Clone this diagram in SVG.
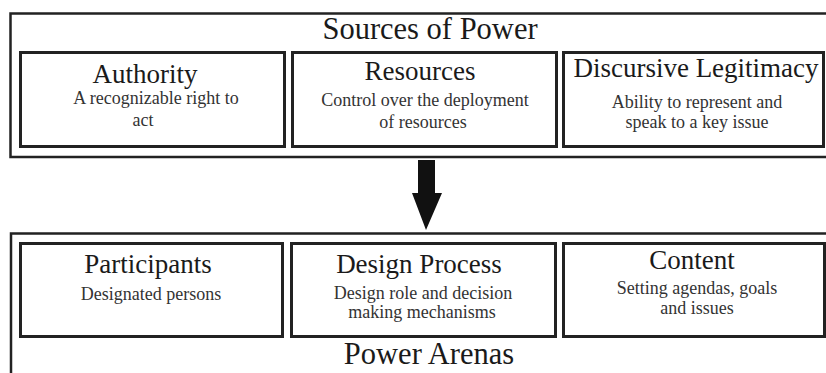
<svg xmlns="http://www.w3.org/2000/svg" width="826" height="373" viewBox="0 0 826 373">
<style>
.outer{fill:none;stroke:#222;stroke-width:2.5}
.box{fill:#fff;stroke:#222;stroke-width:3}
text{font-family:"Liberation Serif","Times New Roman",serif;text-anchor:middle}
.title{font-size:30.5px;fill:#1a1a1a}
.head{font-size:27px;fill:#1a1a1a}
.sub{font-size:18px;fill:#333}
</style>
<rect width="826" height="373" fill="#fff"/>
<g id="sources">
<rect class="outer" x="10.5" y="13.5" width="830" height="143.5"/>
<text class="title" x="430" y="39">Sources of Power</text>
</g>
<g id="authority">
<rect class="box" x="20.5" y="52.5" width="264" height="94"/>
<text class="head" x="145" y="83">Authority</text>
<text class="sub" x="156" y="104">A recognizable right to</text>
<text class="sub" x="143" y="126">act</text>
</g>
<g id="resources">
<rect class="box" x="292.5" y="52.5" width="264" height="94"/>
<text class="head" x="420" y="80">Resources</text>
<text class="sub" x="425" y="106">Control over the deployment</text>
<text class="sub" x="423" y="128">of resources</text>
</g>
<g id="discursive">
<rect class="box" x="563.5" y="52.5" width="260" height="94"/>
<text class="head" x="696" y="77">Discursive Legitimacy</text>
<text class="sub" x="697" y="108">Ability to represent and</text>
<text class="sub" x="697" y="128">speak to a key issue</text>
</g>
<g id="connectors">
<polygon points="418,160 435,160 435,193 442,193 426,230 412,193 418,193" fill="#111"/>
</g>
<g id="arenas">
<rect class="outer" x="11" y="233.5" width="830" height="160"/>
<text class="title" x="429" y="364">Power Arenas</text>
</g>
<g id="participants">
<rect class="box" x="20.5" y="243.5" width="262" height="93"/>
<text class="head" x="148" y="273">Participants</text>
<text class="sub" x="151" y="300">Designated persons</text>
</g>
<g id="design">
<rect class="box" x="291.5" y="243.5" width="264" height="93"/>
<text class="head" x="419" y="273">Design Process</text>
<text class="sub" x="423" y="299">Design role and decision</text>
<text class="sub" x="422" y="318">making mechanisms</text>
</g>
<g id="content">
<rect class="box" x="563.5" y="243.5" width="261" height="93"/>
<text class="head" x="692" y="269">Content</text>
<text class="sub" x="697" y="294">Setting agendas, goals</text>
<text class="sub" x="697" y="314">and issues</text>
</g>
</svg>
